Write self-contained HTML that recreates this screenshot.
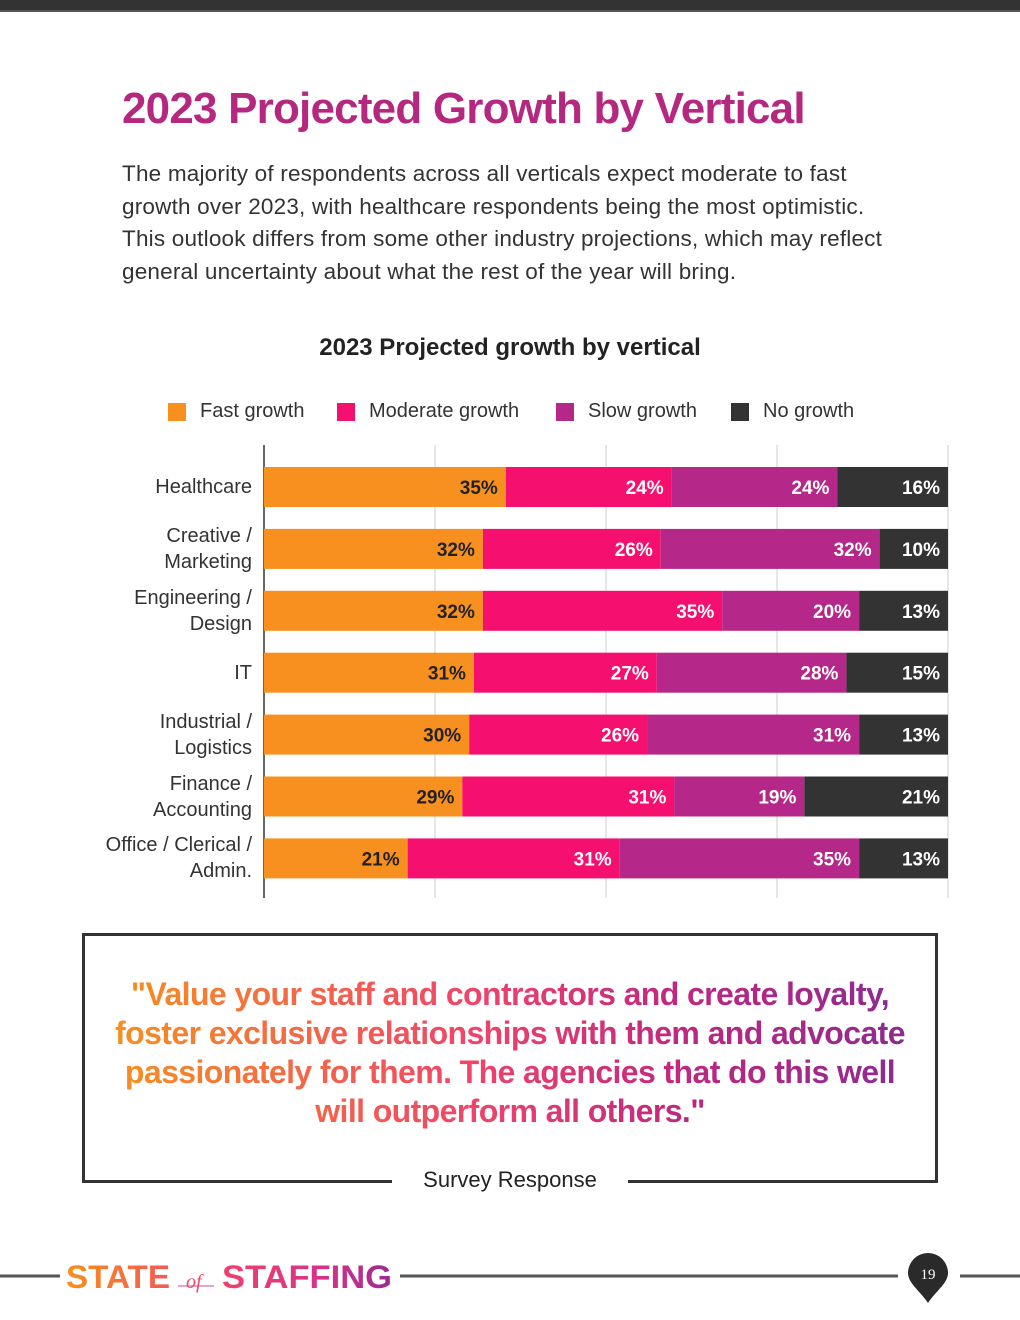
<!DOCTYPE html>
<html><head><meta charset="utf-8"><style>
body{margin:0;width:1020px;height:1320px;background:#fff;position:relative;overflow:hidden;font-family:"Liberation Sans",sans-serif}
.abs{position:absolute}
#topbar{left:0;top:0;width:1020px;height:10px;background:#333;border-bottom:2px solid #555}
#title{left:122px;top:84px;font-size:44px;font-weight:bold;color:#B5287F;letter-spacing:-0.8px;white-space:nowrap}
#intro{left:122px;top:158px;width:820px;font-size:22.5px;line-height:32.5px;color:#333;letter-spacing:0.2px;white-space:nowrap}
#ctitle{left:0;width:1020px;top:334px;text-align:center;font-size:24px;font-weight:bold;color:#222}
.leg{top:400px;font-size:20px;color:#333;display:flex;align-items:center;white-space:nowrap}
.sw{width:18px;height:18px;margin-right:14px;display:inline-block}
.cat{right:768px;font-size:20px;color:#333;text-align:right;line-height:26px}
#quote{left:82px;top:933px;width:850px;height:244px;border:3px solid #333}
#qtext{left:110px;top:975px;width:800px;text-align:center;font-size:32px;font-weight:bold;line-height:39px;letter-spacing:-0.6px;background:linear-gradient(90deg,#F7901E 0%,#F0446A 45%,#C2287E 70%,#8B2A90 100%);-webkit-background-clip:text;background-clip:text;color:transparent}
#qsrc{left:392px;top:1160px;width:236px;height:40px;background:#fff;text-align:center;font-size:22px;line-height:40px;color:#222}
</style></head><body>
<div class="abs" id="topbar"></div>
<div class="abs" id="title">2023 Projected Growth by Vertical</div>
<div class="abs" id="intro">The majority of respondents across all verticals expect moderate to fast<br>growth over 2023, with healthcare respondents being the most optimistic.<br>This outlook differs from some other industry projections, which may reflect<br>general uncertainty about what the rest of the year will bring.</div>
<div class="abs" id="ctitle">2023 Projected growth by vertical</div>
<div class="abs leg" style="left:168px"><span class="sw" style="background:#F7901E"></span>Fast growth</div>
<div class="abs leg" style="left:337px"><span class="sw" style="background:#F50F6E"></span>Moderate growth</div>
<div class="abs leg" style="left:556px"><span class="sw" style="background:#B5288A"></span>Slow growth</div>
<div class="abs leg" style="left:731px"><span class="sw" style="background:#333"></span>No growth</div>
<svg class="abs" style="left:0;top:0" width="1020" height="1320" id="chart"></svg>
<div id="cats"></div>
<div class="abs" id="quote"></div>
<div class="abs" id="qtext">"Value your staff and contractors and create loyalty, foster exclusive relationships with them and advocate passionately for them. The agencies that do this well will outperform all others."</div>
<div class="abs" id="qsrc">Survey Response</div>
<svg class="abs" style="left:0;top:1240px" width="1020" height="70">
<defs><linearGradient id="lg" x1="0" x2="1"><stop offset="0" stop-color="#F7901E"/><stop offset="0.45" stop-color="#F0446A"/><stop offset="0.8" stop-color="#D8308A"/><stop offset="1" stop-color="#9A2A92"/></linearGradient></defs>
<line x1="0" y1="36" x2="60" y2="36" stroke="#555" stroke-width="3"/>
<line x1="400" y1="36" x2="898" y2="36" stroke="#555" stroke-width="3"/>
<line x1="960" y1="36" x2="1020" y2="36" stroke="#555" stroke-width="3"/>
<text x="66" y="48" font-family="Liberation Sans" font-weight="bold" font-size="32" fill="url(#lg)"><tspan textLength="104" lengthAdjust="spacingAndGlyphs">STATE</tspan><tspan x="186" font-family="Liberation Serif" font-style="italic" font-size="20" font-weight="normal">of</tspan><tspan x="222" textLength="170" lengthAdjust="spacingAndGlyphs">STAFFING</tspan></text>
<line x1="178" y1="46" x2="214" y2="46" stroke="#C84A9A" stroke-width="1"/>
<path d="M928 13 a20 20 0 0 1 20 20 c0 10 -12 18 -20 30 c-8 -12 -20 -20 -20 -30 a20 20 0 0 1 20 -20z" fill="#2a2a2a"/>
<text x="928" y="39" text-anchor="middle" font-family="Liberation Serif" font-size="15" fill="#fff">19</text>
</svg>
<script>
const categories=["Healthcare","Creative / Marketing","Engineering / Design","IT","Industrial / Logistics","Finance / Accounting","Office / Clerical / Admin."];
const catLines=[["Healthcare"],["Creative /","Marketing"],["Engineering /","Design"],["IT"],["Industrial /","Logistics"],["Finance /","Accounting"],["Office / Clerical /","Admin."]];
const fast=[35,32,32,31,30,29,21];
const moderate=[24,26,35,27,26,31,31];
const slow=[24,32,20,28,31,19,35];
const none=[16,10,13,15,13,21,13];
const ticks=[0,25,50,75,100];
const series=[fast,moderate,slow,none];
const colors=["#F7901E","#F50F6E","#B5288A","#333333"];
const names=["fast","moderate","slow","none"];
const ns="http://www.w3.org/2000/svg";
const svg=document.getElementById('chart');
const X0=264,X1=948,Y0=467,step=61.9,BH=40;
const x=v=>X0+(X1-X0)*v/100;
const y=i=>Y0+i*step;
ticks.forEach(t=>{const l=document.createElementNS(ns,'line');


l.setAttribute('x1',x(t));l.setAttribute('x2',x(t));l.setAttribute('y1',445);l.setAttribute('y2',898);
l.setAttribute('stroke',t==0?'#333':'#ccc');l.setAttribute('stroke-width',t==0?1.5:1);svg.appendChild(l);});
categories.forEach((c,i)=>{
 const tot=series.reduce((a,s)=>a+s[i],0);let acc=0;
 series.forEach((s,k)=>{const v=s[i]/tot*100;
  const r=document.createElementNS(ns,'rect');
  
  
  r.setAttribute('x',x(acc));r.setAttribute('y',y(i));r.setAttribute('width',x(acc+v)-x(acc));r.setAttribute('height',BH);r.setAttribute('fill',colors[k]);svg.appendChild(r);
  const t=document.createElementNS(ns,'text');
  
  
  t.setAttribute('x',x(acc+v)-8);t.setAttribute('y',y(i)+27);t.setAttribute('text-anchor','end');
  t.setAttribute('font-family','Liberation Sans');t.setAttribute('font-weight','bold');t.setAttribute('font-size','19');
  t.setAttribute('fill',k==0?'#222':'#fff');t.textContent=s[i]+'%';svg.appendChild(t);
  acc+=v;});
 const d=document.createElement('div');
 
 
 d.className='abs cat';
 const L=catLines[i];d.innerHTML=L.join('<br>');
 d.style.top=(y(i)+BH/2-L.length*13)+'px';
 document.getElementById('cats').appendChild(d);
});
</script>
</body></html>
